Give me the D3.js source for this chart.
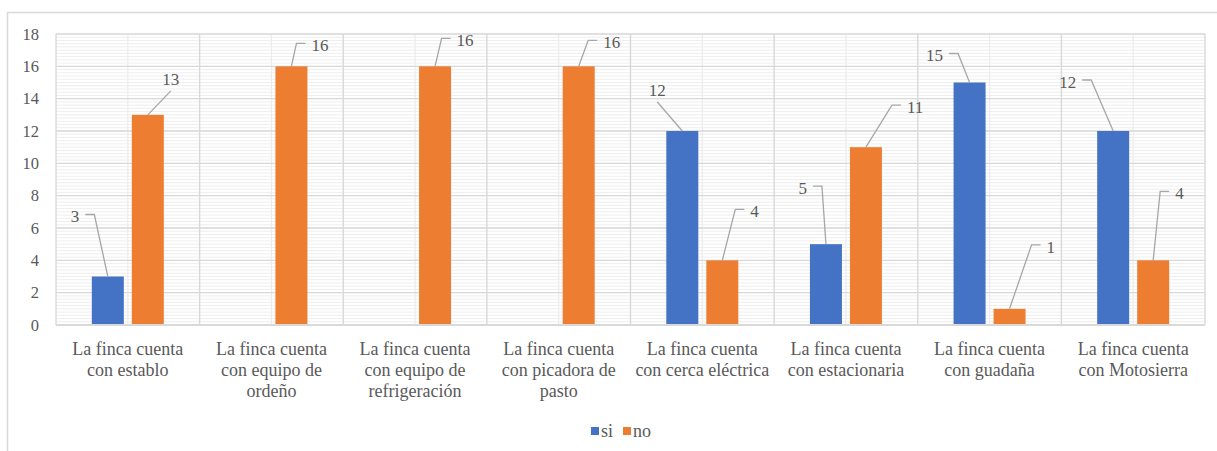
<!DOCTYPE html>
<html>
<head>
<meta charset="UTF-8">
<title>Finca</title>
<script src="https://cdn.jsdelivr.net/npm/d3@7"></script>
<style>
  body { margin: 0; background: #fff; }
  svg text, svg tspan { font-family: "Liberation Serif", "Times New Roman", Tinos, serif !important; }
</style>
</head>
<body>
<svg width="1217" height="451"></svg>
<script>
// chart data
var categories = [
  "La finca cuenta con establo",
  "La finca cuenta con equipo de ordeño",
  "La finca cuenta con equipo de refrigeración",
  "La finca cuenta con picadora de pasto",
  "La finca cuenta con cerca eléctrica",
  "La finca cuenta con estacionaria",
  "La finca cuenta con guadaña",
  "La finca cuenta con Motosierra"
];
var tickLines = [
  ["La finca cuenta", "con establo"],
  ["La finca cuenta", "con equipo de", "ordeño"],
  ["La finca cuenta", "con equipo de", "refrigeración"],
  ["La finca cuenta", "con picadora de", "pasto"],
  ["La finca cuenta", "con cerca eléctrica"],
  ["La finca cuenta", "con estacionaria"],
  ["La finca cuenta", "con guadaña"],
  ["La finca cuenta", "con Motosierra"]
];
var seriesNames = ["si", "no"];
var siValues = [3, 0, 0, 0, 12, 5, 15, 12];
var noValues = [13, 16, 16, 16, 4, 11, 1, 4];
var yTicks = [0, 2, 4, 6, 8, 10, 12, 14, 16, 18];

// leader line offsets for the data labels (px from bar top: dx, dy, side)
var siLeaders = [[-13.5, -62, -1], null, null, null, [-25, -29, 0], [-4, -58, -1], [-11.5, -29, -1], [-22, -51, -1]];
var noLeaders = [[23, -24, 0], [5, -23, 1], [6.5, -28, 1], [9.5, -26, 1], [13, -51, 1], [26, -42, 1], [22, -64, 1], [7, -69, 1]];

var colors = { si: "#4472C4", no: "#ED7D31" };
var textColor = "#595959";
var serif = "'Liberation Serif', monospace";

// force the serif face on a text selection
function serifFont(sel, size) {
  sel.each(function() {
    this.style.setProperty("font-family", serif, "important");
    this.style.setProperty("font-size", size, "important");
  });
}

var margin = { top: 34, left: 56, right: 12, bottom: 126 };
var W = 1217, H = 451;
var svg = d3.select("svg");

// outer chart border
svg.append("rect")
    .attr("x", 7.5).attr("y", 12.5)
    .attr("width", W + 20).attr("height", H + 20)
    .attr("fill", "#fff")
    .attr("stroke", "#d9d9d9")
    .attr("stroke-width", 1.5);

var x0 = d3.scaleBand()
    .domain(categories)
    .range([margin.left, W - margin.right])
    .padding(0);

var x1 = d3.scaleBand()
    .domain(seriesNames)
    .range([-36, 36])
    .paddingInner(0.2);

var y = d3.scaleLinear()
    .domain([0, 18])
    .range([H - margin.bottom, margin.top]);

var g = svg.append("g");

// minor grid
g.selectAll(".hminor")
    .data(y.ticks(90))
  .enter().append("line")
    .attr("x1", margin.left).attr("x2", W - margin.right)
    .attr("y1", function(d) { return y(d); })
    .attr("y2", function(d) { return y(d); })
    .attr("stroke", "#eeeeee")
    .attr("stroke-width", 1);

g.selectAll(".vminor")
    .data(categories)
  .enter().append("line")
    .attr("x1", function(d) { return x0(d) + x0.bandwidth() / 2; })
    .attr("x2", function(d) { return x0(d) + x0.bandwidth() / 2; })
    .attr("y1", y(18)).attr("y2", y(0))
    .attr("stroke", "#ececec")
    .attr("stroke-width", 1.2);

// major grid
g.selectAll(".hmajor")
    .data(yTicks)
  .enter().append("line")
    .attr("x1", margin.left).attr("x2", W - margin.right)
    .attr("y1", function(d) { return y(d); })
    .attr("y2", function(d) { return y(d); })
    .attr("stroke", "#d9d9d9")
    .attr("stroke-width", 1.4);

g.selectAll(".vmajor")
    .data(categories.concat(["end"]))
  .enter().append("line")
    .attr("x1", function(d, i) { return margin.left + i * x0.step(); })
    .attr("x2", function(d, i) { return margin.left + i * x0.step(); })
    .attr("y1", y(18)).attr("y2", y(0))
    .attr("stroke", "#d9d9d9")
    .attr("stroke-width", 1.4);

// y tick labels
g.selectAll(".ytick")
    .data(yTicks)
  .enter().append("text")
    .attr("x", 39)
    .attr("y", function(d) { return y(d); })
    .attr("dy", "0.35em")
    .attr("text-anchor", "end")
    .attr("fill", textColor)
    .text(function(d) { return d; })
    .call(serifFont, "16.5px");

// bars
var rows = categories.map(function(c, i) {
  return { cat: c, si: siValues[i], no: noValues[i], i: i };
});

var groups = g.selectAll(".grp")
    .data(rows)
  .enter().append("g")
    .attr("transform", function(d) { return "translate(" + (x0(d.cat) + x0.bandwidth() / 2) + ",0)"; });

groups.selectAll("rect")
    .data(function(d) { return seriesNames.map(function(s) { return { key: s, value: d[s] }; }); })
  .enter().append("rect")
    .filter(function(d) { return d.value > 0; })
    .attr("x", function(d) { return x1(d.key); })
    .attr("width", x1.bandwidth())
    .attr("y", function(d) { return y(d.value); })
    .attr("height", function(d) { return y(0) - y(d.value); })
    .attr("fill", function(d) { return colors[d.key]; });

// axis line at zero
g.append("line")
    .attr("x1", margin.left).attr("x2", W - margin.right)
    .attr("y1", y(0)).attr("y2", y(0))
    .attr("stroke", "#d9d9d9")
    .attr("stroke-width", 2);

// data labels with leader lines
var labels = [];
seriesNames.forEach(function(s) {
  var vals = s === "si" ? siValues : noValues;
  var leaders = s === "si" ? siLeaders : noLeaders;
  vals.forEach(function(v, i) {
    if (v > 0 && leaders[i]) {
      labels.push({ key: s, value: v, cat: categories[i], lead: leaders[i] });
    }
  });
});

var lab = g.selectAll(".lab")
    .data(labels)
  .enter().append("g");

lab.append("path")
    .attr("fill", "none")
    .attr("stroke", "#a6a6a6")
    .attr("stroke-width", 1.3)
    .attr("d", function(d) {
      var cx = x0(d.cat) + x0.bandwidth() / 2 + x1(d.key) + x1.bandwidth() / 2;
      var ty = y(d.value);
      var ex = cx + d.lead[0], ey = ty + d.lead[1];
      var p = "M" + cx + "," + ty + "L" + ex + "," + ey;
      if (d.lead[2] !== 0) p += "L" + (ex + d.lead[2] * 9) + "," + ey;
      return p;
    });

lab.append("text")
    .attr("fill", textColor)
    .attr("dy", "0.35em")
    .attr("text-anchor", function(d) {
      return d.lead[2] > 0 ? "start" : (d.lead[2] < 0 ? "end" : "middle");
    })
    .attr("x", function(d) {
      var cx = x0(d.cat) + x0.bandwidth() / 2 + x1(d.key) + x1.bandwidth() / 2;
      return cx + d.lead[0] + d.lead[2] * 15;
    })
    .attr("y", function(d) {
      var ey = y(d.value) + d.lead[1];
      return d.lead[2] === 0 ? ey - 12 : ey + 2;
    })
    .text(function(d) { return d.value; })
    .call(serifFont, "17px");

// category labels
var xl = g.selectAll(".xlab")
    .data(categories)
  .enter().append("text")
    .attr("text-anchor", "middle")
    .attr("fill", textColor)
    .attr("transform", function(d) { return "translate(" + (x0(d) + x0.bandwidth() / 2) + ",349)"; })
    .call(serifFont, "18px");

xl.selectAll("tspan")
    .data(function(d, i) { return tickLines[i]; })
  .enter().append("tspan")
    .attr("x", 0)
    .attr("y", function(d, i) { return i * 21; })
    .attr("dy", "0.35em")
    .text(function(d) { return d; })
    .call(serifFont, "18px");

// legend
var legend = svg.append("g").attr("transform", "translate(591,431)");
var legX = [0, 32];
seriesNames.forEach(function(s, i) {
  legend.append("rect")
      .attr("x", legX[i]).attr("y", -4)
      .attr("width", 8).attr("height", 8)
      .attr("fill", colors[s]);
  legend.append("text")
      .attr("x", legX[i] + 10).attr("y", 0)
      .attr("dy", "0.35em")
      .attr("fill", textColor)
      .text(s)
      .call(serifFont, "18px");
});
</script>
</body>
</html>
